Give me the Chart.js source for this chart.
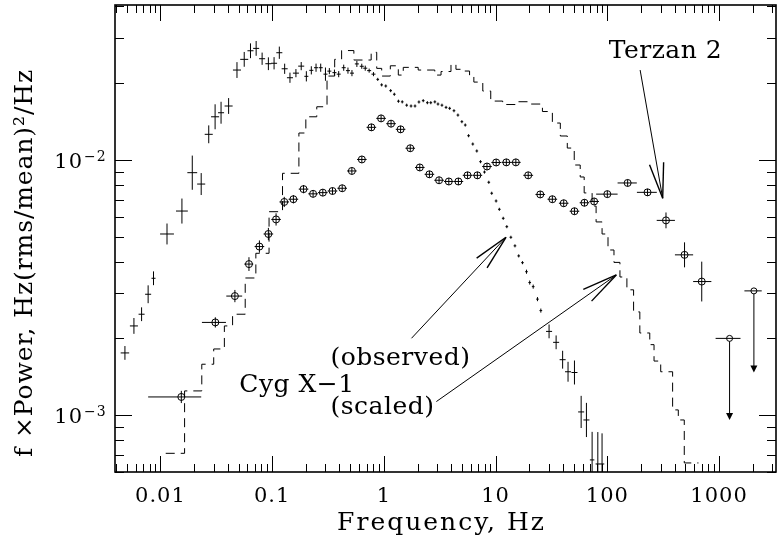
<!DOCTYPE html>
<html>
<head>
<meta charset="utf-8">
<title>Terzan 2 / Cyg X-1 power spectra</title>
<script src="https://cdn.jsdelivr.net/npm/chart.js@4.4.1/dist/chart.umd.min.js"></script>
<style>
  html, body { margin: 0; padding: 0; background: #fff; }
  canvas { display: block; }
</style>
</head>
<body>
<canvas id="chart" width="781" height="542"></canvas>
<script>
// axis limits (Hz, power)
let freqMin = 0.00392, freqMax = 3234;
let powerMin = 0.000599, powerMax = 0.0405;

let freqTicks = [0.01, 0.1, 1, 10, 100, 1000];
let freqTickLabels = ["0.01", "0.1", "1", "10", "100", "1000"];
let powerTicks = [0.001, 0.01];
let powerTickExp = ["\u22123", "\u22122"];

// Cyg X-1 observed (crosses); errors are half lengths in dex
let cygObsFreq = [0.00481, 0.00579, 0.00678, 0.00776, 0.00867, 0.01145, 0.01557, 0.01927, 0.02316, 0.02706,
    0.03085, 0.03488, 0.04076, 0.04842, 0.05623, 0.06397, 0.0719, 0.0813, 0.0925, 0.104,
    0.1159, 0.1294, 0.1443, 0.1632, 0.182, 0.2023, 0.2241, 0.247, 0.272, 0.300,
    0.325, 0.361, 0.394, 0.437, 0.477, 0.518, 0.573, 0.634, 0.681, 0.738,
    0.807, 0.881, 0.955, 1.04, 1.15, 1.24, 1.35, 1.46, 1.60, 1.75,
    1.90, 2.06, 2.25, 2.45, 2.63, 2.86, 3.05, 3.31, 3.60, 3.88,
    4.24, 4.60, 4.99, 5.35, 5.73, 6.25, 6.79, 7.33, 7.95, 8.69,
    9.23, 10.1, 10.8, 11.7, 12.6, 13.7, 14.9, 16.1, 17.4, 18.9,
    20.2, 21.7, 23.7, 25.4, 30.1, 34.8, 39.8, 44.5, 50.8, 58.3,
    65.0, 73.1, 82.2, 89.7];
let cygObsPower = [0.001754, 0.002238, 0.002487, 0.002978, 0.00344, 0.00513, 0.00631, 0.00892, 0.00805, 0.01261,
    0.01477, 0.01532, 0.01628, 0.02252, 0.0248, 0.0268, 0.02738, 0.02494, 0.02384, 0.02394,
    0.02633, 0.02278, 0.02101, 0.0219, 0.02333, 0.02128, 0.02246, 0.0230, 0.0230, 0.0217,
    0.0223, 0.0220, 0.0217, 0.0230, 0.0224, 0.0219, 0.0238, 0.0233, 0.0229, 0.0224,
    0.0217, 0.0207, 0.0197, 0.0195, 0.0187, 0.0181, 0.0170, 0.0169, 0.0164, 0.01628,
    0.01628, 0.01688, 0.01708, 0.01677, 0.01677, 0.0169, 0.01657, 0.0164, 0.01608, 0.01594,
    0.0156, 0.0150, 0.01413, 0.01371, 0.01245, 0.01155, 0.01085, 0.00985, 0.00897, 0.00818,
    0.00741, 0.00691, 0.00641, 0.00591, 0.00548, 0.00498, 0.00461, 0.00421, 0.00396, 0.00365,
    0.00331, 0.00319, 0.00285, 0.00257, 0.00213, 0.00193, 0.00165, 0.00148, 0.00147, 0.00103,
    0.000958, 0.000668, 0.000644, 0.000644];
let cygObsErrP = [0.027, 0.031, 0.027, 0.035, 0.027, 0.041, 0.049, 0.067, 0.043, 0.035,
    0.049, 0.043, 0.031, 0.031, 0.029, 0.029, 0.029, 0.024, 0.025, 0.024,
    0.024, 0.020, 0.020, 0.016, 0.016, 0.020, 0.016, 0.016, 0.016, 0.026,
    0.012, 0.012, 0.012, 0.012, 0.012, 0.012, 0.012, 0.010, 0.010, 0.008,
    0.008, 0.006, 0.006, 0.006, 0.006, 0.006, 0.006, 0.006, 0.006, 0.006,
    0.006, 0.006, 0.006, 0.006, 0.006, 0.006, 0.006, 0.006, 0.006, 0.006,
    0.006, 0.006, 0.006, 0.006, 0.006, 0.006, 0.006, 0.006, 0.006, 0.006,
    0.006, 0.006, 0.006, 0.006, 0.006, 0.006, 0.006, 0.006, 0.006, 0.008,
    0.008, 0.008, 0.008, 0.008, 0.027, 0.027, 0.035, 0.039, 0.047, 0.063,
    0.067, 0.110, 0.125, 0.120];
let cygObsErrF = [0.038, 0.036, 0.027, 0.027, 0.018, 0.062, 0.053, 0.044, 0.036, 0.036,
    0.036, 0.027, 0.036, 0.036, 0.036, 0.027, 0.027, 0.027, 0.027, 0.027,
    0.027, 0.027, 0.027, 0.027, 0.027, 0.018, 0.018, 0.018, 0.018, 0.018,
    0.018, 0.018, 0.018, 0.018, 0.018, 0.018, 0.018, 0.018, 0.018, 0.018,
    0.018, 0.012, 0.012, 0.012, 0.012, 0.012, 0.012, 0.012, 0.012, 0.012,
    0.012, 0.012, 0.012, 0.012, 0.012, 0.012, 0.012, 0.012, 0.012, 0.012,
    0.012, 0.012, 0.012, 0.012, 0.012, 0.012, 0.012, 0.012, 0.012, 0.012,
    0.012, 0.012, 0.012, 0.012, 0.012, 0.012, 0.012, 0.012, 0.012, 0.012,
    0.012, 0.012, 0.012, 0.012, 0.027, 0.027, 0.027, 0.027, 0.027, 0.027,
    0.027, 0.020, 0.020, 0.020];

// Terzan 2 (circled points)
let terzanFreq = [0.01538, 0.0310, 0.0464, 0.0620, 0.0769, 0.0925, 0.1084, 0.1283, 0.1549, 0.191,
    0.2325, 0.284, 0.3467, 0.4236, 0.517, 0.635, 0.773, 0.944, 1.159, 1.411,
    1.722, 2.096, 2.556, 3.119, 3.811, 4.645, 5.61, 6.87, 8.37, 10.12,
    12.47, 15.18, 19.58, 25.1, 32.2, 40.7, 50.8, 62.4, 76.2, 100,
    152, 229, 335, 491, 700];
let terzanPower = [0.001179, 0.00231, 0.00293, 0.00391, 0.00458, 0.00513, 0.00585, 0.00685, 0.00702, 0.00769,
    0.00737, 0.00745, 0.00756, 0.00775, 0.00906, 0.01005, 0.01343, 0.01456, 0.01388, 0.01319,
    0.01112, 0.00935, 0.00879, 0.00833, 0.00824, 0.00824, 0.00871, 0.00871, 0.00943, 0.00978,
    0.00979, 0.00979, 0.00871, 0.00733, 0.00702, 0.00677, 0.0063, 0.0068, 0.00688, 0.00735,
    0.00813, 0.00747, 0.0058, 0.00425, 0.00334];
let terzanErrP = [0.024, 0.020, 0.024, 0.027, 0.024, 0.024, 0.024, 0.020, 0.016, 0.016,
    0.012, 0.012, 0.012, 0.012, 0.012, 0.012, 0.012, 0.012, 0.012, 0.012,
    0.012, 0.012, 0.012, 0.012, 0.012, 0.012, 0.012, 0.012, 0.012, 0.012,
    0.012, 0.012, 0.012, 0.012, 0.012, 0.012, 0.012, 0.012, 0.012, 0.012,
    0.012, 0.012, 0.031, 0.049, 0.078];
let terzanErrFLo = [0.297, 0.120, 0.077, 0.042, 0.043, 0.043, 0.043, 0.043, 0.043, 0.043,
    0.043, 0.043, 0.043, 0.043, 0.043, 0.043, 0.043, 0.043, 0.043, 0.043,
    0.043, 0.043, 0.043, 0.043, 0.043, 0.043, 0.043, 0.043, 0.043, 0.043,
    0.043, 0.043, 0.044, 0.043, 0.043, 0.043, 0.043, 0.043, 0.043, 0.100,
    0.090, 0.095, 0.083, 0.086, 0.077];
let terzanErrFHi = [0.178, 0.095, 0.065, 0.038, 0.043, 0.043, 0.043, 0.043, 0.043, 0.043,
    0.043, 0.043, 0.043, 0.043, 0.043, 0.043, 0.043, 0.043, 0.043, 0.043,
    0.043, 0.043, 0.043, 0.043, 0.043, 0.043, 0.043, 0.043, 0.043, 0.043,
    0.043, 0.043, 0.044, 0.043, 0.043, 0.043, 0.043, 0.043, 0.043, 0.092,
    0.082, 0.083, 0.080, 0.077, 0.086];

// Terzan 2 upper limits
let limitFreq = [1242, 2051];
let limitPower = [0.00200, 0.00307];
let limitArrowTo = [0.000958, 0.00147];
let limitErrFLo = [0.125, 0.085];
let limitErrFHi = [0.098, 0.070];

// Cyg X-1 scaled (dashed histogram): left bin edges, bin levels, last right edge
let scaledEdges = [0.01115, 0.01645, 0.02345, 0.02998, 0.03734, 0.04424, 0.05739, 0.07145, 0.0938, 0.1238,
    0.1735, 0.2002, 0.2508, 0.3098, 0.3627, 0.4185, 0.5386, 0.7694, 0.8628, 0.9559,
    1.142, 1.346, 1.491, 2.028, 2.855, 3.248, 3.986, 4.416, 5.202, 5.847,
    6.386, 7.679, 9.046, 11.57, 15.10, 19.71, 26.25, 32.21, 37.95, 43.81,
    50.56, 57.18, 62.06, 73.09, 79.35, 89.74, 101.4, 114.7, 129.7, 149.7,
    171.8, 195.4, 239.8, 261.9, 300.5, 384.1, 431.8, 488.3];
let scaledPower = [0.000709, 0.001245, 0.001584, 0.001818, 0.002238, 0.002487, 0.003449, 0.00431, 0.006273, 0.00887,
    0.01276, 0.01477, 0.01617, 0.02133, 0.0248, 0.02685, 0.02465, 0.02642, 0.02286, 0.02133,
    0.0234, 0.02152, 0.02307, 0.02252, 0.02152, 0.02222, 0.0237, 0.02267, 0.02232, 0.02152,
    0.0202, 0.01863, 0.01702, 0.0165, 0.01692, 0.01657, 0.01549, 0.01396, 0.01242, 0.01114,
    0.00956, 0.00858, 0.00743, 0.0066, 0.00572, 0.00513, 0.00444, 0.00397, 0.00348, 0.0031,
    0.00254, 0.0021, 0.00189, 0.00163, 0.00148, 0.001049, 0.000958, 0.00065];
let scaledLastEdge = 654.4;

// labels and arrows in data units
let noteText = ["Terzan 2", "(observed)", "Cyg X\u22121", "(scaled)"];
let noteFreq = [102.9, 0.3321, 0.05075, 0.3321];
let notePower = [0.02509, 0.001574, 0.001234, 0.001012];
let arrowFromFreq = [196.6, 1.767, 2.950];
let arrowFromPower = [0.02252, 0.002002, 0.001131];
let arrowToFreq = [313.0, 12.38, 120.3];
let arrowToPower = [0.00708, 0.00498, 0.003544];

const serif = '"DejaVu Serif", "Liberation Serif", serif';

function seg(ctx, x1, y1, x2, y2) {
    ctx.beginPath();
    ctx.moveTo(x1, y1);
    ctx.lineTo(x2, y2);
    ctx.stroke();
}

let figurePlugin = {
    id: "figure",
    beforeDraw(chart) {
        let ctx = chart.ctx;
        ctx.save();
        ctx.fillStyle = "#fff";
        ctx.fillRect(0, 0, chart.width, chart.height);
        ctx.restore();
    },
    afterDatasetsDraw(chart) {
        let ctx = chart.ctx, a = chart.chartArea;
        let X = v => chart.scales.x.getPixelForValue(v);
        let Y = v => chart.scales.y.getPixelForValue(v);
        ctx.save();
        ctx.beginPath();
        ctx.rect(a.left, a.top, a.right - a.left, a.bottom - a.top);
        ctx.clip();
        ctx.strokeStyle = "#000";
        ctx.fillStyle = "#000";
        ctx.lineWidth = 1;

        cygObsFreq.forEach((f, i) => {
            let p = cygObsPower[i];
            let ef = Math.pow(10, cygObsErrF[i]), ep = Math.pow(10, cygObsErrP[i]);
            seg(ctx, X(f / ef), Y(p), X(f * ef), Y(p));
            seg(ctx, X(f), Y(p * ep), X(f), Y(p / ep));
        });

        terzanFreq.forEach((f, i) => {
            let p = terzanPower[i], x = X(f), y = Y(p);
            let ep = Math.pow(10, terzanErrP[i]);
            seg(ctx, Math.min(X(f / Math.pow(10, terzanErrFLo[i])), x - 3.5), y,
                Math.max(X(f * Math.pow(10, terzanErrFHi[i])), x + 3.5), y);
            seg(ctx, x, Math.min(Y(p * ep), y - 3.5), x, Math.max(Y(p / ep), y + 3.5));
        });

        limitFreq.forEach((f, i) => {
            let x = X(f), y = Y(limitPower[i]), yEnd = Y(limitArrowTo[i]);
            seg(ctx, X(f / Math.pow(10, limitErrFLo[i])), y, X(f * Math.pow(10, limitErrFHi[i])), y);
            seg(ctx, x, y + 3, x, yEnd - 6);
            ctx.beginPath();
            ctx.moveTo(x - 3.5, yEnd - 7);
            ctx.lineTo(x + 3.5, yEnd - 7);
            ctx.lineTo(x, yEnd);
            ctx.closePath();
            ctx.fill();
        });
        ctx.restore();
    },
    afterDraw(chart) {
        let ctx = chart.ctx, a = chart.chartArea;
        let xs = chart.scales.x, ys = chart.scales.y;
        let X = v => xs.getPixelForValue(v);
        let Y = v => ys.getPixelForValue(v);
        ctx.save();
        ctx.strokeStyle = "#000";
        ctx.fillStyle = "#000";

        // ticks on all four sides, pointing inwards
        ctx.lineWidth = 1;
        for (let d = -3; d <= 3; d++) {
            for (let m = 1; m <= 9; m++) {
                let v = m * Math.pow(10, d);
                if (v > freqMin && v < freqMax) {
                    let x = Math.round(X(v)) + 0.5, len = m === 1 ? 16 : 8;
                    seg(ctx, x, a.bottom, x, a.bottom - len);
                    seg(ctx, x, a.top, x, a.top + len);
                }
            }
        }
        for (let d = -4; d <= -1; d++) {
            for (let m = 1; m <= 9; m++) {
                let v = m * Math.pow(10, d);
                if (v > powerMin && v < powerMax) {
                    let y = Math.round(Y(v)) + 0.5, len = m === 1 ? 17 : 9;
                    seg(ctx, a.left, y, a.left + len, y);
                    seg(ctx, a.right, y, a.right - len, y);
                }
            }
        }

        // frame
        ctx.lineWidth = 1.6;
        ctx.strokeRect(a.left, a.top, a.right - a.left, a.bottom - a.top);

        // tick labels
        ctx.font = "21px " + serif;
        ctx.letterSpacing = "1px";
        ctx.textAlign = "center";
        ctx.textBaseline = "alphabetic";
        freqTicks.forEach((v, i) => ctx.fillText(freqTickLabels[i], X(v), a.bottom + 30));
        powerTicks.forEach((v, i) => {
            let y = Y(v);
            ctx.font = "21px " + serif;
            ctx.textAlign = "right";
            ctx.fillText("10", a.left - 32, y + 8);
            ctx.font = "14px " + serif;
            ctx.textAlign = "left";
            ctx.fillText(powerTickExp[i], a.left - 31, y + 1);
        });

        // axis titles
        ctx.font = "25px " + serif;
        ctx.letterSpacing = "2px";
        ctx.textAlign = "center";
        ctx.fillText("Frequency, Hz", (a.left + a.right) / 2 - 4, a.bottom + 58);
        ctx.save();
        ctx.translate(25, 263);
        ctx.rotate(-Math.PI / 2);
        ctx.letterSpacing = "0.9px";
        ctx.textBaseline = "middle";
        ctx.fillText("f \u00d7Power, Hz(rms/mean)\u00b2/Hz", 0, 0);
        ctx.restore();

        // notes
        ctx.font = "25px " + serif;
        ctx.letterSpacing = "0.5px";
        ctx.textAlign = "left";
        ctx.textBaseline = "alphabetic";
        noteText.forEach((t, i) => ctx.fillText(t, X(noteFreq[i]), Y(notePower[i])));
        ctx.letterSpacing = "0px";

        // arrows with long open heads
        ctx.lineWidth = 1;
        arrowFromFreq.forEach((f, i) => {
            let x1 = X(f), y1 = Y(arrowFromPower[i]);
            let x2 = X(arrowToFreq[i]), y2 = Y(arrowToPower[i]);
            seg(ctx, x1, y1, x2, y2);
            let back = Math.atan2(y1 - y2, x1 - x2);
            ctx.lineWidth = 1.4;
            [-0.2, 0.2].forEach(s => {
                seg(ctx, x2, y2, x2 + 36 * Math.cos(back + s), y2 + 36 * Math.sin(back + s));
            });
            ctx.lineWidth = 1;
        });
        ctx.restore();
    }
};

let scaledPoints = scaledEdges.map((e, i) => ({ x: e, y: scaledPower[i] }));
scaledPoints.push({ x: scaledLastEdge, y: scaledPower[scaledPower.length - 1] });

let context = document.getElementById("chart").getContext("2d");
let chart = new Chart(context, {
    type: "scatter",
    data: {
        datasets: [
            {
                type: "line",
                label: "Cyg X-1 (scaled)",
                data: scaledPoints,
                stepped: "before",
                borderColor: "#000",
                borderWidth: 1,
                borderDash: [9, 6],
                pointRadius: 0,
                fill: false
            },
            {
                label: "Cyg X-1 (observed)",
                data: cygObsFreq.map((f, i) => ({ x: f, y: cygObsPower[i] })),
                pointRadius: 0
            },
            {
                label: "Terzan 2",
                data: terzanFreq.map((f, i) => ({ x: f, y: terzanPower[i] })),
                pointStyle: "circle",
                pointRadius: 3.5,
                borderWidth: 1,
                borderColor: "#000",
                backgroundColor: "rgba(0,0,0,0)"
            },
            {
                label: "Terzan 2 upper limits",
                data: limitFreq.map((f, i) => ({ x: f, y: limitPower[i] })),
                pointStyle: "circle",
                pointRadius: 3,
                borderWidth: 1,
                borderColor: "#000",
                backgroundColor: "rgba(0,0,0,0)"
            }
        ]
    },
    options: {
        responsive: false,
        devicePixelRatio: 1,
        animation: false,
        events: [],
        layout: { padding: { left: 115, top: 5, right: 1, bottom: 70 } },
        scales: {
            x: { type: "logarithmic", min: freqMin, max: freqMax, display: false },
            y: { type: "logarithmic", min: powerMin, max: powerMax, display: false }
        },
        plugins: { legend: { display: false }, tooltip: { enabled: false } }
    },
    plugins: [figurePlugin]
});
</script>
</body>
</html>
